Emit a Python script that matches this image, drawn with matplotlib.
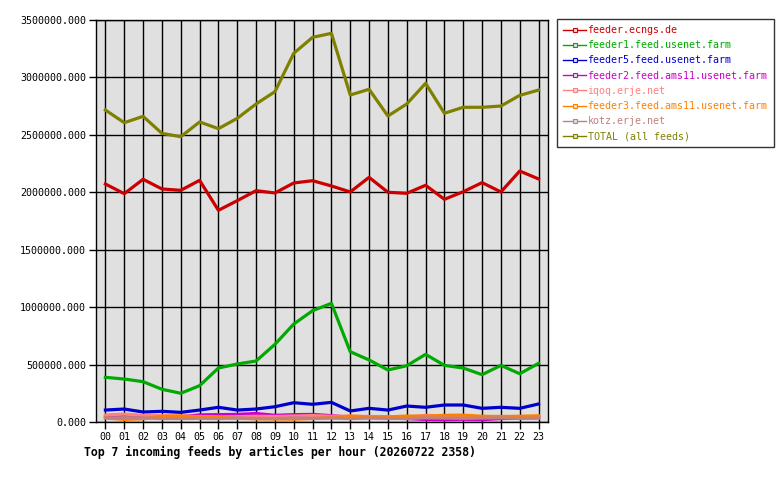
"""
Top 7 incoming feeds by articles per hour.
"""

import matplotlib
matplotlib.use("Agg")
import matplotlib.pyplot as plt
from matplotlib.ticker import FuncFormatter

HOURS = ["%02d" % h for h in range(24)]

FEEDS = [
    "feeder.ecngs.de",
    "feeder1.feed.usenet.farm",
    "feeder5.feed.usenet.farm",
    "feeder2.feed.ams11.usenet.farm",
    "iqoq.erje.net",
    "feeder3.feed.ams11.usenet.farm",
    "kotz.erje.net",
    "TOTAL (all feeds)",
]

ecngs = [2072000, 1988000, 2113000, 2029000, 2017000, 2104000, 1843000, 1927000,
         2014000, 1994000, 2081000, 2101000, 2055000, 2003000, 2130000, 2000000,
         1991000, 2061000, 1939000, 2005000, 2084000, 2003000, 2185000, 2116000]
feeder1 = [389000, 374000, 351000, 285000, 250000, 316000, 470000, 505000,
           531000, 676000, 853000, 969000, 1033000, 612000, 540000, 453000,
           490000, 589000, 493000, 470000, 412000, 493000, 420000, 511000]
feeder5 = [104000, 113000, 87000, 93000, 84000, 104000, 128000, 104000,
           113000, 133000, 168000, 154000, 171000, 96000, 119000, 104000,
           139000, 128000, 148000, 148000, 119000, 128000, 119000, 157000]
feeder2 = [45000, 50000, 48000, 42000, 45000, 62000, 64000, 66000,
           74000, 58000, 64000, 66000, 55000, 42000, 40000, 36000,
           30000, 22000, 20000, 24000, 20000, 30000, 35000, 38000]
iqoq = [61000, 69000, 58000, 55000, 52000, 48000, 44000, 46000,
        50000, 48000, 52000, 56000, 50000, 50000, 48000, 46000,
        42000, 58000, 52000, 48000, 44000, 46000, 44000, 42000]
feeder3 = [36000, 22000, 28000, 50000, 52000, 45000, 40000, 32000,
           28000, 26000, 25000, 30000, 40000, 52000, 44000, 44000,
           52000, 50000, 58000, 60000, 50000, 48000, 50000, 54000]
kotz = [34000, 38000, 36000, 30000, 30000, 32000, 30000, 36000,
        30000, 30000, 36000, 32000, 34000, 30000, 34000, 32000,
        30000, 36000, 34000, 32000, 34000, 36000, 32000, 34000]
total = [2716000, 2606000, 2661000, 2513000, 2484000, 2612000, 2554000, 2644000,
         2769000, 2876000, 3210000, 3349000, 3384000, 2847000, 2897000, 2664000,
         2769000, 2949000, 2688000, 2740000, 2740000, 2751000, 2844000, 2890000]

SERIES = [ecngs, feeder1, feeder5, feeder2, iqoq, feeder3, kotz, total]
COLORS = ["#cc0000", "#00aa00", "#0000cc", "#cc00cc",
          "#ff8080", "#ff8000", "#c08080", "#808000"]

MONO = "DejaVu Sans Mono"


def main():
    fig = plt.figure(figsize=(7.8, 4.8), dpi=100)
    ax = fig.add_axes([96 / 780, 58 / 480, 452 / 780, 402 / 480])
    ax.set_facecolor("#e0e0e0")

    x = list(range(len(HOURS)))
    handles = []
    for name, vals, color in zip(FEEDS, SERIES, COLORS):
        ax.plot(x, vals, color=color, linewidth=2.3, zorder=3)
        h, = ax.plot([], [], color=color, linewidth=1.0, marker="s",
                     markersize=2.5, markerfacecolor="#e0e0e0",
                     markeredgecolor=color, markeredgewidth=0.8, label=name)
        handles.append(h)

    ax.set_xlim(-0.5, 23.5)
    ax.set_ylim(0, 3500000)
    ax.set_xticks(x)
    ax.set_xticklabels(HOURS)
    ax.set_yticks(range(0, 3500001, 500000))
    ax.yaxis.set_major_formatter(FuncFormatter(lambda v, p: "%.3f" % v))

    ax.grid(True, color="black", linewidth=1.0)
    ax.set_axisbelow(True)
    for s in ax.spines.values():
        s.set_color("black")
        s.set_linewidth(1.0)

    ax.tick_params(axis="both", direction="out", length=5, width=1,
                   colors="black", labelsize=7.2, pad=2)
    for lab in ax.get_xticklabels() + ax.get_yticklabels():
        lab.set_fontfamily(MONO)

    leg = fig.legend(handles=handles, loc="upper left",
                     bbox_to_anchor=(557 / 780, 1 - 19 / 480),
                     prop={"family": MONO, "size": 7.2},
                     frameon=True, fancybox=False, handlelength=2.3,
                     handletextpad=0.15, borderpad=0.6, labelspacing=0.52,
                     borderaxespad=0)
    leg.get_frame().set_edgecolor("black")
    leg.get_frame().set_linewidth(1.0)
    for txt, color in zip(leg.get_texts(), COLORS):
        txt.set_color(color)

    fig.text(84 / 780, 1 - 452 / 480,
             "Top 7 incoming feeds by articles per hour (20260722 2358)",
             family=MONO, fontweight="bold", fontsize=8.3,
             ha="left", va="center")

    fig.savefig("out.png", dpi=100, facecolor="white")
    plt.close(fig)


if __name__ == "__main__":
    main()
